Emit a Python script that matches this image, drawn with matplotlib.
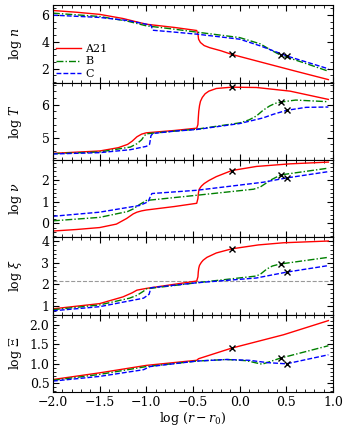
import numpy as np
import matplotlib
matplotlib.use('Agg')
from matplotlib import pyplot as plt
from matplotlib.ticker import MultipleLocator, AutoMinorLocator, FormatStrFormatter

plt.rcParams['font.family'] = 'serif'
plt.rcParams['font.serif'] = ['DejaVu Serif']
plt.rcParams['mathtext.fontset'] = 'dejavuserif'
plt.rcParams['font.size'] = 9

# ---- data ----
# panel 1: log n
n_a21_x = [-2, -1.75, -1.5, -1.25, -1.0, -0.7, -0.46, -0.445, -0.44, -0.42, -0.38, -0.32, -0.2, -0.085, 0.3, 0.6, 0.95]
n_a21_y = [6.35, 6.22, 6.06, 5.75, 5.32, 5.08, 4.85, 4.5, 4.2, 3.95, 3.72, 3.56, 3.33, 3.06, 2.35, 1.8, 1.17]
n_b_x = [-2, -1.5, -1.2, -1.0, -0.7, -0.45, 0.0, 0.22, 0.33, 0.44, 0.7, 0.95]
n_b_y = [6.15, 5.9, 5.55, 5.2, 4.95, 4.72, 4.32, 3.85, 3.4, 3.0, 2.4, 1.8]
n_c_x = [-2, -1.5, -1.2, -1.0, -0.95, -0.93, -0.7, -0.45, 0.0, 0.22, 0.51, 0.95]
n_c_y = [6.0, 5.83, 5.6, 5.32, 5.25, 4.87, 4.73, 4.57, 4.2, 3.7, 2.93, 1.98]

# panel 2: log T
t_a21_x = [-2, -1.5, -1.3, -1.2, -1.15, -1.1, -1.05, -1.0, -0.7, -0.46, -0.447, -0.443, -0.438, -0.43, -0.42, -0.40, -0.37, -0.33, -0.25, -0.085, 0.18, 0.54, 0.95]
t_a21_y = [4.53, 4.6, 4.7, 4.8, 4.9, 5.03, 5.11, 5.15, 5.22, 5.29, 5.4, 5.6, 5.8, 5.97, 6.1, 6.22, 6.33, 6.41, 6.49, 6.53, 6.52, 6.41, 6.16]
t_b_x = [-2, -1.5, -1.17, -1.1, -1.05, -1.02, -1.0, -0.7, -0.46, 0.0, 0.1, 0.18, 0.25, 0.32, 0.38, 0.44, 0.6, 0.95]
t_b_y = [4.52, 4.57, 4.72, 4.82, 4.94, 5.06, 5.12, 5.2, 5.26, 5.45, 5.54, 5.66, 5.83, 5.96, 6.04, 6.08, 6.14, 6.09]
t_c_x = [-2, -1.5, -1.17, -1.0, -0.965, -0.958, -0.95, -0.93, -0.7, -0.46, 0.0, 0.25, 0.36, 0.504, 0.71, 0.95]
t_c_y = [4.51, 4.55, 4.64, 4.74, 4.8, 4.92, 5.06, 5.13, 5.2, 5.25, 5.43, 5.6, 5.71, 5.83, 5.92, 5.93]

# panel 3: log nu
v_a21_x = [-2, -1.75, -1.5, -1.32, -1.21, -1.14, -1.1, -1.05, -1.0, -0.7, -0.46, -0.447, -0.443, -0.438, -0.43, -0.41, -0.38, -0.33, -0.25, -0.085, 0.18, 0.54, 0.95]
v_a21_y = [-0.35, -0.28, -0.19, -0.03, 0.23, 0.44, 0.52, 0.58, 0.62, 0.78, 0.93, 1.15, 1.35, 1.5, 1.6, 1.72, 1.84, 1.98, 2.16, 2.44, 2.63, 2.75, 2.83]
v_b_x = [-2, -1.5, -1.2, -1.14, -1.08, -1.03, -1.0, -0.46, 0.15, 0.22, 0.28, 0.34, 0.44, 0.95]
v_b_y = [0.12, 0.28, 0.55, 0.67, 0.85, 0.98, 1.06, 1.30, 1.58, 1.68, 1.85, 2.02, 2.24, 2.55]
v_c_x = [-2, -1.5, -1.07, -0.98, -0.96, -0.94, -0.46, 0.25, 0.504, 0.95]
v_c_y = [0.33, 0.52, 0.83, 1.0, 1.2, 1.38, 1.53, 1.9, 2.1, 2.39]

# panel 4: log xi
xi_a21_x = [-2, -1.5, -1.25, -1.15, -1.1, -1.0, -0.46, -0.447, -0.443, -0.438, -0.43, -0.41, -0.39, -0.35, -0.25, -0.085, 0.2, 0.47, 0.95]
xi_a21_y = [0.88, 1.12, 1.43, 1.62, 1.74, 1.82, 2.16, 2.35, 2.58, 2.75, 2.88, 3.02, 3.12, 3.25, 3.45, 3.64, 3.82, 3.92, 4.0]
xi_b_x = [-2, -1.5, -1.18, -1.1, -1.03, -1.0, -0.46, 0.18, 0.23, 0.29, 0.35, 0.43, 0.95]
xi_b_y = [0.84, 1.06, 1.37, 1.5, 1.69, 1.8, 2.08, 2.39, 2.5, 2.71, 2.85, 2.94, 3.25]
xi_c_x = [-2, -1.5, -1.03, -0.97, -0.96, -0.95, -0.46, 0.18, 0.504, 0.95]
xi_c_y = [0.79, 0.98, 1.37, 1.55, 1.7, 1.85, 2.08, 2.3, 2.57, 2.87]
xi_crit = 2.18

# panel 5: log Xi
Xi_a21_x = [-2, -1.5, -1.0, -0.46, -0.44, -0.085, 0.47, 0.95]
Xi_a21_y = [0.60, 0.77, 0.96, 1.09, 1.13, 1.40, 1.74, 2.10]
Xi_b_x = [-2, -1.5, -1.0, -0.46, -0.14, 0.07, 0.24, 0.43, 0.95]
Xi_b_y = [0.58, 0.73, 0.93, 1.07, 1.11, 1.08, 0.99, 1.14, 1.46]
Xi_c_x = [-2, -1.5, -1.03, -0.96, -0.46, -0.14, 0.1, 0.3, 0.5, 0.95]
Xi_c_y = [0.56, 0.68, 0.85, 0.93, 1.07, 1.11, 1.09, 1.03, 1.0, 1.23]

# x markers (A21, B, C)
mark_x = [-0.085, 0.44, 0.51]
mark_n = [3.06, 3.0, 2.93]
mark_t = [6.53, 6.07, 5.83]
mark_v = [2.44, 2.24, 2.1]
mark_xi = [3.64, 2.94, 2.57]
mark_Xi = [1.40, 1.14, 1.0]

labels = ['A21', 'B', 'C']
ylabels = [r'$\log\,n$', r'$\log\,T$', r'$\log\,\nu$', r'$\log\,\xi$', r'$\log\,\Xi$']
ylims = [(0.95, 6.75), (4.33, 6.67), (-0.64, 2.93), (0.61, 4.17), (0.28, 2.25)]
ymajor = [2, 1, 1, 1, 0.5]

panels = [
    [(n_a21_x, n_a21_y), (n_b_x, n_b_y), (n_c_x, n_c_y), mark_n],
    [(t_a21_x, t_a21_y), (t_b_x, t_b_y), (t_c_x, t_c_y), mark_t],
    [(v_a21_x, v_a21_y), (v_b_x, v_b_y), (v_c_x, v_c_y), mark_v],
    [(xi_a21_x, xi_a21_y), (xi_b_x, xi_b_y), (xi_c_x, xi_c_y), mark_xi],
    [(Xi_a21_x, Xi_a21_y), (Xi_b_x, Xi_b_y), (Xi_c_x, Xi_c_y), mark_Xi],
]

styles = [dict(color='r', ls='-'),
          dict(color='g', ls=(0, (5, 1.5, 1, 1.5))),
          dict(color='b', ls=(0, (3.5, 1.5)))]

fig, axes = plt.subplots(5, 1, figsize=(3.48, 4.29), dpi=100, sharex=True)
fig.subplots_adjust(left=0.152, right=0.957, top=0.988, bottom=0.086, hspace=0)

for i, ax in enumerate(axes):
    a21, b, c, marks = panels[i]
    for (xs, ys), st, lab in zip([a21, b, c], styles, labels):
        ax.plot(xs, ys, lw=1.0, label=lab, **st)
    if i == 3:
        ax.axhline(xi_crit, color='0.6', lw=0.8, ls='--', zorder=0)
    ax.plot(mark_x, marks, 'kx', ms=5, mew=1.0, zorder=5)
    ax.set_xlim(-2, 1)
    ax.set_ylim(*ylims[i])
    ax.set_ylabel(ylabels[i])
    ax.yaxis.set_major_locator(MultipleLocator(ymajor[i]))
    ax.yaxis.set_minor_locator(AutoMinorLocator())
    ax.xaxis.set_major_locator(MultipleLocator(0.5))
    ax.xaxis.set_minor_locator(MultipleLocator(0.1))
    ax.tick_params(which='both', direction='in', top=True, right=True)
    ax.tick_params(which='major', length=4, pad=2.5)
    ax.tick_params(which='minor', length=2)

axes[4].yaxis.set_major_formatter(FormatStrFormatter('%.1f'))
axes[0].legend(loc='lower left', frameon=False, handlelength=2.2, borderaxespad=0.0,
               borderpad=0.3, labelspacing=0.25, handletextpad=0.4, fontsize=8)
axes[4].set_xlabel(r'$\log\,(r - r_0)$', labelpad=1)
fig.align_ylabels(axes)

fig.savefig('out.png', dpi=100)
